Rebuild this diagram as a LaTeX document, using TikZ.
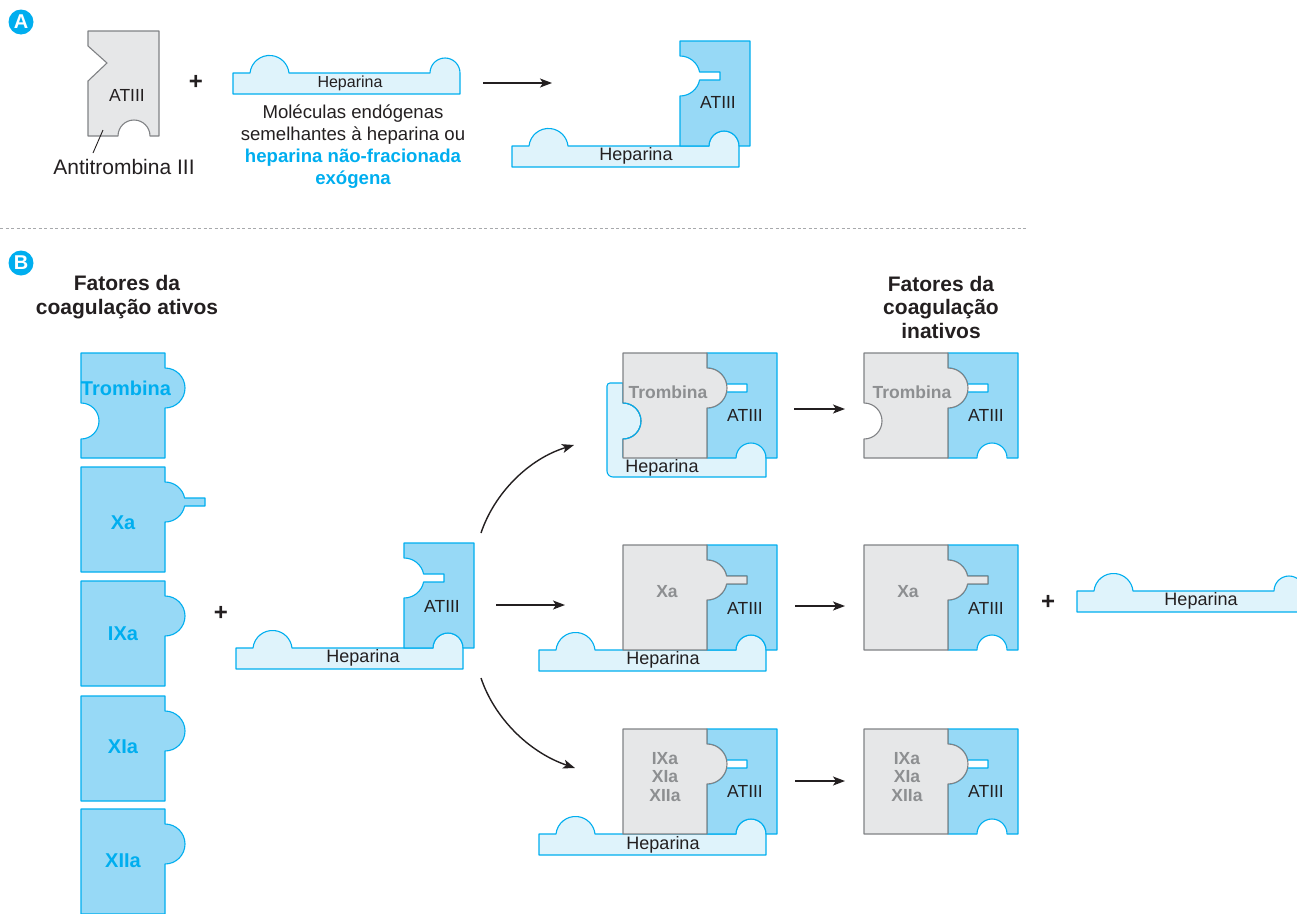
\documentclass[tikz,border=0pt]{standalone}
\usepackage{fontspec}
\setmainfont{Liberation Sans}
\usetikzlibrary{arrows.meta}

\definecolor{cyanline}{HTML}{00AEEF}
\definecolor{bluefill}{HTML}{97D9F6}
\definecolor{hepfill}{HTML}{DFF3FB}
\definecolor{grayfill}{HTML}{E6E7E8}
\definecolor{grayline}{HTML}{808285}
\definecolor{graytext}{HTML}{8D8F91}
\definecolor{ink}{HTML}{231F20}
\definecolor{dashgray}{HTML}{A7A9AC}

\newcommand\fsz[1]{\fontsize{#1}{#1}\selectfont}

\tikzset{
  % antithrombin: notch with slot on the left, round notch at the bottom
  pics/atiii/.style={code={
    \path[pic actions] (0,0) -- (70,0) -- (70,105) -- (59,105)
      arc[start angle=0,end angle=-180,radius=15] -- (0,105) -- (0,55)
      arc[start angle=90,end angle=11.5,radius=20] -- (40,39) -- (40,31) -- (19.6,31)
      arc[start angle=-11.5,end angle=-90,radius=20] -- cycle;}},
  % clotting factor with a round knob on the right
  pics/factor/.style={code={
    \path[pic actions] (0,0) -- (84,0) -- (84,15)
      arc[start angle=-90,end angle=90,radius=20] -- (84,105) -- (0,105) -- cycle;}},
  % factor Xa: knob with a small pin
  pics/factorpin/.style={code={
    \path[pic actions] (0,0) -- (84,0) -- (84,15)
      arc[start angle=-90,end angle=-11.5,radius=20] -- (124,31) -- (124,39) -- (103.6,39)
      arc[start angle=11.5,end angle=90,radius=20] -- (84,105) -- (0,105) -- cycle;}},
  % thrombin: knob on the right, heparin-binding notch on the left
  pics/thrombin/.style={code={
    \path[pic actions] (0,0) -- (84,0) -- (84,15)
      arc[start angle=-90,end angle=90,radius=20] -- (84,105) -- (0,105) -- (0,86)
      arc[start angle=90,end angle=-90,radius=18] -- cycle;}},
  % heparin strip with two bumps
  pics/heparin/.style={code={
    \path[pic actions] (0,21) -- (0,0) -- (17,0)
      arc[start angle=186,end angle=354,radius=19.6] -- (197,0)
      arc[start angle=180,end angle=360,radius=15] -- (227,0) -- (227,21) -- cycle;}},
}

\begin{document}
\begin{tikzpicture}[x=1pt,y=-1pt,line join=round,
  bluepiece/.style={fill=bluefill,draw=cyanline,line width=1.1pt},
  graypiece/.style={fill=grayfill,draw=grayline,line width=1.1pt},
  heppiece/.style={fill=hepfill,draw=cyanline,line width=1.1pt},
  atlbl/.style={inner sep=0pt,text=ink,font=\fsz{17.5}},
  heplbl/.style={inner sep=0pt,text=ink,font=\fsz{18}},
  factlbl/.style={inner sep=0pt,text=cyanline,font=\bfseries\fsz{20}},
  inactlbl/.style={inner sep=0pt,text=graytext,align=center,font=\bfseries\fontsize{17.5}{18.5}\selectfont},
  plussign/.style={inner sep=0pt,text=ink,font=\bfseries\fsz{24}},
  react/.style={draw=ink,line width=1.4pt,-{Stealth[length=12pt,width=9pt,inset=3pt]}},
  badge/.style={circle,fill=cyanline,minimum size=25pt,inner sep=0pt,text=white,font=\bfseries\fsz{20}},
  heading/.style={inner sep=0pt,text=ink,align=center,font=\bfseries\fontsize{21}{23.5}\selectfont},
]
\useasboundingbox (0,0) rectangle (1297,913);
\clip (0,0) rectangle (1297,913);

% ---------------- panel A ----------------
\node[badge] (badgeA) at (21,22) {A};

% free antithrombin III
\path[graypiece] (88,31) -- (159,31) -- (159,136) -- (150,136)
  arc[start angle=0,end angle=-180,radius=16] -- (88,136) -- (88,81) -- (107,63) -- (88,46) -- cycle;
\node[atlbl] (atA) at (127,95) {ATIII};
\node[inner sep=0pt,text=ink,font=\fsz{21}] (atName) at (124,167) {Antitrombina III};
\coordinate (leadTop) at (103,130);
\coordinate (leadBot) at (93,153);
\draw[ink,line width=0.9pt] (leadTop) -- (leadBot);

\node[plussign] (plusA) at (196,82) {+};

% free heparin
\pic[heppiece] at (233,73) {heparin};
\node[inner sep=0pt,text=ink,font=\fsz{16}] (hepA) at (350,83) {Heparina};
\node[inner sep=0pt,text=ink,align=center,font=\fontsize{18.6}{22}\selectfont] (hepNote) at (353,147)
  {Moléculas endógenas\\semelhantes à heparina ou\\
   {\color{cyanline}\bfseries heparina não-fracionada}\\{\color{cyanline}\bfseries exógena}};

\coordinate (arrAs) at (483,83);
\coordinate (arrAe) at (552,83);
\draw[react] (arrAs) -- (arrAe);

% heparin-bound antithrombin
\pic[heppiece] at (512,146) {heparin};
\pic[bluepiece] at (680,41) {atiii};
\node[atlbl] (atA2) at (718,102) {ATIII};
\node[heplbl] (hepA2) at (636,156) {Heparina};

% separator
\draw[dashgray,line width=0.9pt,dash pattern=on 3pt off 2.5pt] (0,228) -- (1027,228);

% ---------------- panel B ----------------
\node[badge] (badgeB) at (21,263) {B};
\node[heading] (hdActive) at (127,297) {Fatores da\\coagulação ativos};
\node[heading] (hdInactive) at (941,307) {Fatores da\\coagulação\\inativos};

% active factors
\pic[bluepiece] at (81,353) {thrombin};
\node[factlbl] (fThr) at (126,388) {Trombina};
\pic[bluepiece] at (81,467) {factorpin};
\node[factlbl] (fXa) at (123,523) {Xa};
\pic[bluepiece] at (81,581) {factor};
\node[factlbl] (fIXa) at (123,634) {IXa};
\pic[bluepiece] at (81,696) {factor};
\node[factlbl] (fXIa) at (123,747) {XIa};
\pic[bluepiece] at (81,809) {factor};
\node[factlbl] (fXIIa) at (123,861) {XIIa};

\node[plussign] (plusB) at (221,613) {+};

% heparin-antithrombin complex
\pic[heppiece] at (236,648) {heparin};
\pic[bluepiece] at (404,543) {atiii};
\node[atlbl] (atB) at (442,606) {ATIII};
\node[heplbl] (hepB) at (363,658) {Heparina};

% reaction arrows out of the complex
\coordinate (upS) at (481,533);
\coordinate (upE) at (574,445);
\draw[react] (upS) .. controls (494,494) and (528,459) .. (upE);
\coordinate (midS) at (496,605);
\coordinate (midE) at (565,605);
\draw[react] (midS) -- (midE);
\coordinate (dnS) at (481,678);
\coordinate (dnE) at (575,768);
\draw[react] (dnS) .. controls (494,717) and (528,752) .. (dnE);

% ternary complex with thrombin (bent heparin)
\path[heppiece] (610,383) -- (623,383) -- (623,403)
  arc[start angle=-90,end angle=90,radius=18] -- (623,457) -- (736,457)
  arc[start angle=180,end angle=360,radius=15] -- (766,457) -- (766,477) -- (613,477)
  arc[start angle=90,end angle=180,radius=6] -- (607,386)
  arc[start angle=180,end angle=270,radius=3] -- cycle;
\pic[bluepiece] at (707,353) {atiii};
\pic[graypiece] at (623,353) {thrombin};
\draw[cyanline,line width=1.1pt] (623,403) arc[start angle=-90,end angle=90,radius=18];
\node[inactlbl] (cThr) at (668,392) {Trombina};
\node[atlbl] (cAt1) at (745,415) {ATIII};
\node[heplbl] (cHep1) at (662,468) {Heparina};

% complex with Xa
\pic[heppiece] at (539,650) {heparin};
\pic[bluepiece] at (707,545) {atiii};
\pic[graypiece] at (623,545) {factorpin};
\node[inactlbl] (cXa) at (667,592) {Xa};
\node[atlbl] (cAt2) at (745,608) {ATIII};
\node[heplbl] (cHep2) at (663,660) {Heparina};

% complex with IXa / XIa / XIIa
\pic[heppiece] at (539,834) {heparin};
\pic[bluepiece] at (707,729) {atiii};
\pic[graypiece] at (623,729) {factor};
\node[inactlbl] (cIX) at (665,777) {IXa\\XIa\\XIIa};
\node[atlbl] (cAt3) at (745,791) {ATIII};
\node[heplbl] (cHep3) at (663,845) {Heparina};

% release arrows
\coordinate (r1s) at (794,409);
\coordinate (r1e) at (845,409);
\draw[react] (r1s) -- (r1e);
\coordinate (r2s) at (795,606);
\coordinate (r2e) at (845,606);
\draw[react] (r2s) -- (r2e);
\coordinate (r3s) at (795,781);
\coordinate (r3e) at (845,781);
\draw[react] (r3s) -- (r3e);

% inactive products
\pic[bluepiece] at (948,353) {atiii};
\pic[graypiece] at (864,353) {thrombin};
\node[inactlbl] (pThr) at (912,392) {Trombina};
\node[atlbl] (pAt1) at (986,415) {ATIII};

\pic[bluepiece] at (948,545) {atiii};
\pic[graypiece] at (864,545) {factorpin};
\node[inactlbl] (pXa) at (908,592) {Xa};
\node[atlbl] (pAt2) at (986,608) {ATIII};

\pic[bluepiece] at (948,729) {atiii};
\pic[graypiece] at (864,729) {factor};
\node[inactlbl] (pIX) at (907,777) {IXa\\XIa\\XIIa};
\node[atlbl] (pAt3) at (986,791) {ATIII};

% released heparin
\node[plussign] (plusC) at (1048,602) {+};
\pic[heppiece] at (1077,591) {heparin};
\node[heplbl] (hepFree) at (1201,601) {Heparina};
\end{tikzpicture}
\end{document}
